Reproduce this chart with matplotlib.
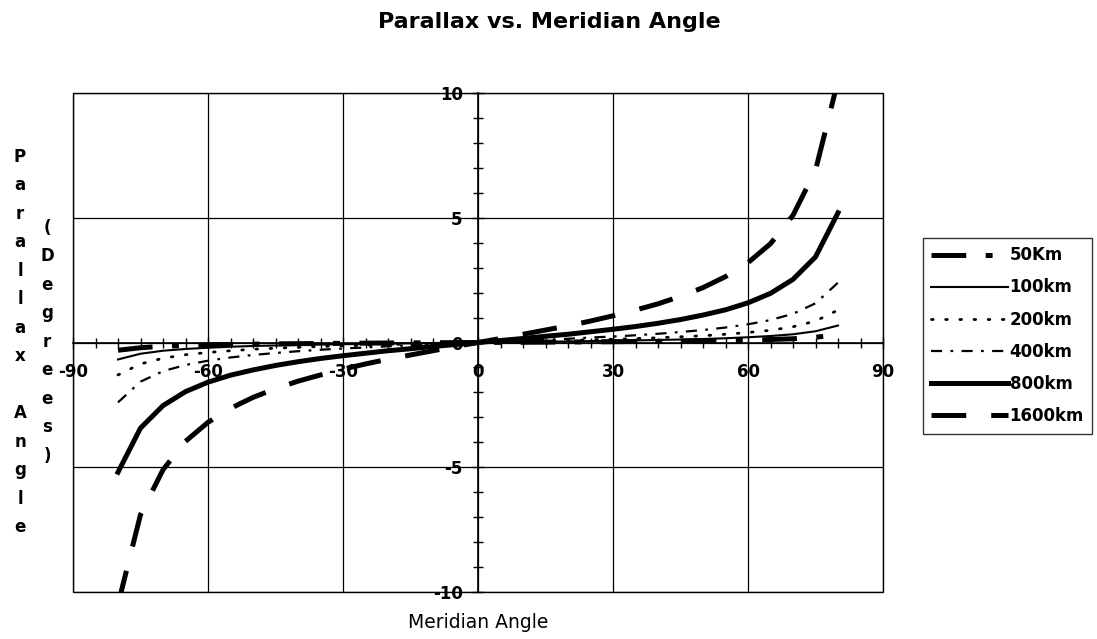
import matplotlib
matplotlib.use("Agg")
import matplotlib.pyplot as plt
from matplotlib.ticker import MultipleLocator
from matplotlib.patches import Rectangle

plt.rcParams['font.family'] = ['DejaVu Sans']
plt.rcParams['lines.scale_dashes'] = False
plt.rcParams['axes.unicode_minus'] = False

meridian_angle = [-80, -75, -70, -65, -60, -55, -50, -45, -40, -35, -30, -25, -20, -15, -10, -5,
                  0, 5, 10, 15, 20, 25, 30, 35, 40, 45, 50, 55, 60, 65, 70, 75, 80]

p50 = [-0.31, -0.21, -0.15, -0.12, -0.095, -0.079, -0.066, -0.055, -0.046, -0.039, -0.032, -0.026,
       -0.020, -0.015, -0.010, -0.005, 0.0, 0.005, 0.010, 0.015, 0.020, 0.026, 0.032, 0.039, 0.046,
       0.055, 0.066, 0.079, 0.095, 0.12, 0.15, 0.21, 0.31]
p100 = [-0.68, -0.45, -0.33, -0.26, -0.21, -0.17, -0.14, -0.12, -0.10, -0.084, -0.069, -0.056,
        -0.044, -0.032, -0.021, -0.010, 0.0, 0.010, 0.021, 0.032, 0.044, 0.056, 0.069, 0.084, 0.10,
        0.12, 0.14, 0.17, 0.21, 0.26, 0.33, 0.45, 0.68]
p200 = [-1.3, -0.86, -0.63, -0.49, -0.40, -0.33, -0.27, -0.23, -0.19, -0.16, -0.13, -0.11,
        -0.084, -0.062, -0.041, -0.020, 0.0, 0.020, 0.041, 0.062, 0.084, 0.11, 0.13, 0.16, 0.19,
        0.23, 0.27, 0.33, 0.40, 0.49, 0.63, 0.86, 1.3]
p400 = [-2.4, -1.57, -1.15, -0.90, -0.73, -0.60, -0.50, -0.42, -0.35, -0.29, -0.24, -0.20,
        -0.15, -0.11, -0.074, -0.037, 0.0, 0.037, 0.074, 0.11, 0.15, 0.20, 0.24, 0.29, 0.35,
        0.42, 0.50, 0.60, 0.73, 0.90, 1.15, 1.57, 2.4]
p800 = [-5.2, -3.43, -2.53, -1.97, -1.59, -1.31, -1.10, -0.92, -0.77, -0.64, -0.53, -0.43,
        -0.33, -0.25, -0.16, -0.08, 0.0, 0.08, 0.16, 0.25, 0.33, 0.43, 0.53, 0.64, 0.77,
        0.92, 1.10, 1.31, 1.59, 1.97, 2.53, 3.43, 5.2]
p1600 = [-10.5, -6.9, -5.1, -3.96, -3.2, -2.64, -2.2, -1.85, -1.55, -1.30, -1.07, -0.86,
         -0.67, -0.50, -0.33, -0.16, 0.0, 0.16, 0.33, 0.50, 0.67, 0.86, 1.07, 1.30, 1.55,
         1.85, 2.2, 2.64, 3.2, 3.96, 5.1, 6.9, 10.5]

series_labels = ['50Km', '100km', '200km', '400km', '800km', '1600km']
x_ticks = [-90, -60, -30, 0, 30, 60, 90]
y_ticks = [-10, -5, 0, 5, 10]

W, H = 1097, 639
fig = plt.figure(figsize=(W / 100, H / 100), dpi=100)
ax = fig.add_axes([73 / W, 1 - 592 / H, (883 - 73) / W, (592 - 93) / H])

styles = [
    dict(lw=3.6, dashes=(25, 14, 5, 14), solid_capstyle='butt', dash_capstyle='butt'),
    dict(lw=1.5),
    dict(lw=2.0, dashes=(1.2, 9), dash_capstyle='round'),
    dict(lw=1.6, dashes=(8, 6, 2, 6), dash_capstyle='butt'),
    dict(lw=3.6),
    dict(lw=3.6, dashes=(25, 18), dash_capstyle='butt'),
]
series = [p50, p100, p200, p400, p800, p1600]
for vals, lab, st in zip(series, series_labels, styles):
    ax.plot(meridian_angle, vals, color='black', label=lab, **st)

ax.set_xlim(-90, 90)
ax.set_ylim(-10, 10)
ax.set_xticks(x_ticks)
ax.set_yticks(y_ticks)
ax.xaxis.set_minor_locator(MultipleLocator(5))
ax.yaxis.set_minor_locator(MultipleLocator(1))
ax.grid(True, which='major', color='black', lw=0.9)

ax.spines['left'].set_position(('data', 0))
ax.spines['bottom'].set_position(('data', 0))
ax.spines['right'].set_visible(False)
ax.spines['top'].set_visible(False)
for s in ('left', 'bottom'):
    ax.spines[s].set_linewidth(1.2)
ax.add_patch(Rectangle((0, 0), 1, 1, transform=ax.transAxes, fill=False,
                       edgecolor='black', lw=1.0, clip_on=False, zorder=5))

ax.tick_params(which='both', direction='inout', color='black', width=1.0)
ax.tick_params(which='major', length=8)
ax.tick_params(which='minor', length=7)
ax.tick_params(axis='x', which='major', pad=11, labelsize=12)
ax.tick_params(axis='y', which='major', pad=7, labelsize=12)
for lbl in ax.get_xticklabels() + ax.get_yticklabels():
    lbl.set_fontweight('bold')

fig.text(549 / W, 1 - 22 / H, 'Parallax vs. Meridian Angle', ha='center', va='center',
         fontsize=16, fontweight='bold')
fig.text(478 / W, 1 - 623 / H, 'Meridian Angle', ha='center', va='center', fontsize=13.5)

left_label = '\n'.join(list('Parallax')) + '\n\n' + '\n'.join(list('Angle'))
right_label = '\n'.join(list('(Degrees)'))
fig.text(20 / W, 1 - 342 / H, left_label, ha='center', va='center', multialignment='center',
         fontsize=12, fontweight='bold', linespacing=1.75)
fig.text(47 / W, 1 - 342 / H, right_label, ha='center', va='center', multialignment='center',
         fontsize=12, fontweight='bold', linespacing=1.75)

leg = fig.legend(loc='upper left', bbox_to_anchor=(923 / W, 1 - 238 / H), frameon=True,
                 fancybox=False, shadow=False, fontsize=12, handlelength=4.6,
                 handletextpad=0.1, labelspacing=0.85, borderpad=0.5, borderaxespad=0)
leg.get_frame().set_edgecolor('black')
leg.get_frame().set_linewidth(1.0)
for t in leg.get_texts():
    t.set_fontweight('bold')

fig.savefig('out.png', dpi=100)
